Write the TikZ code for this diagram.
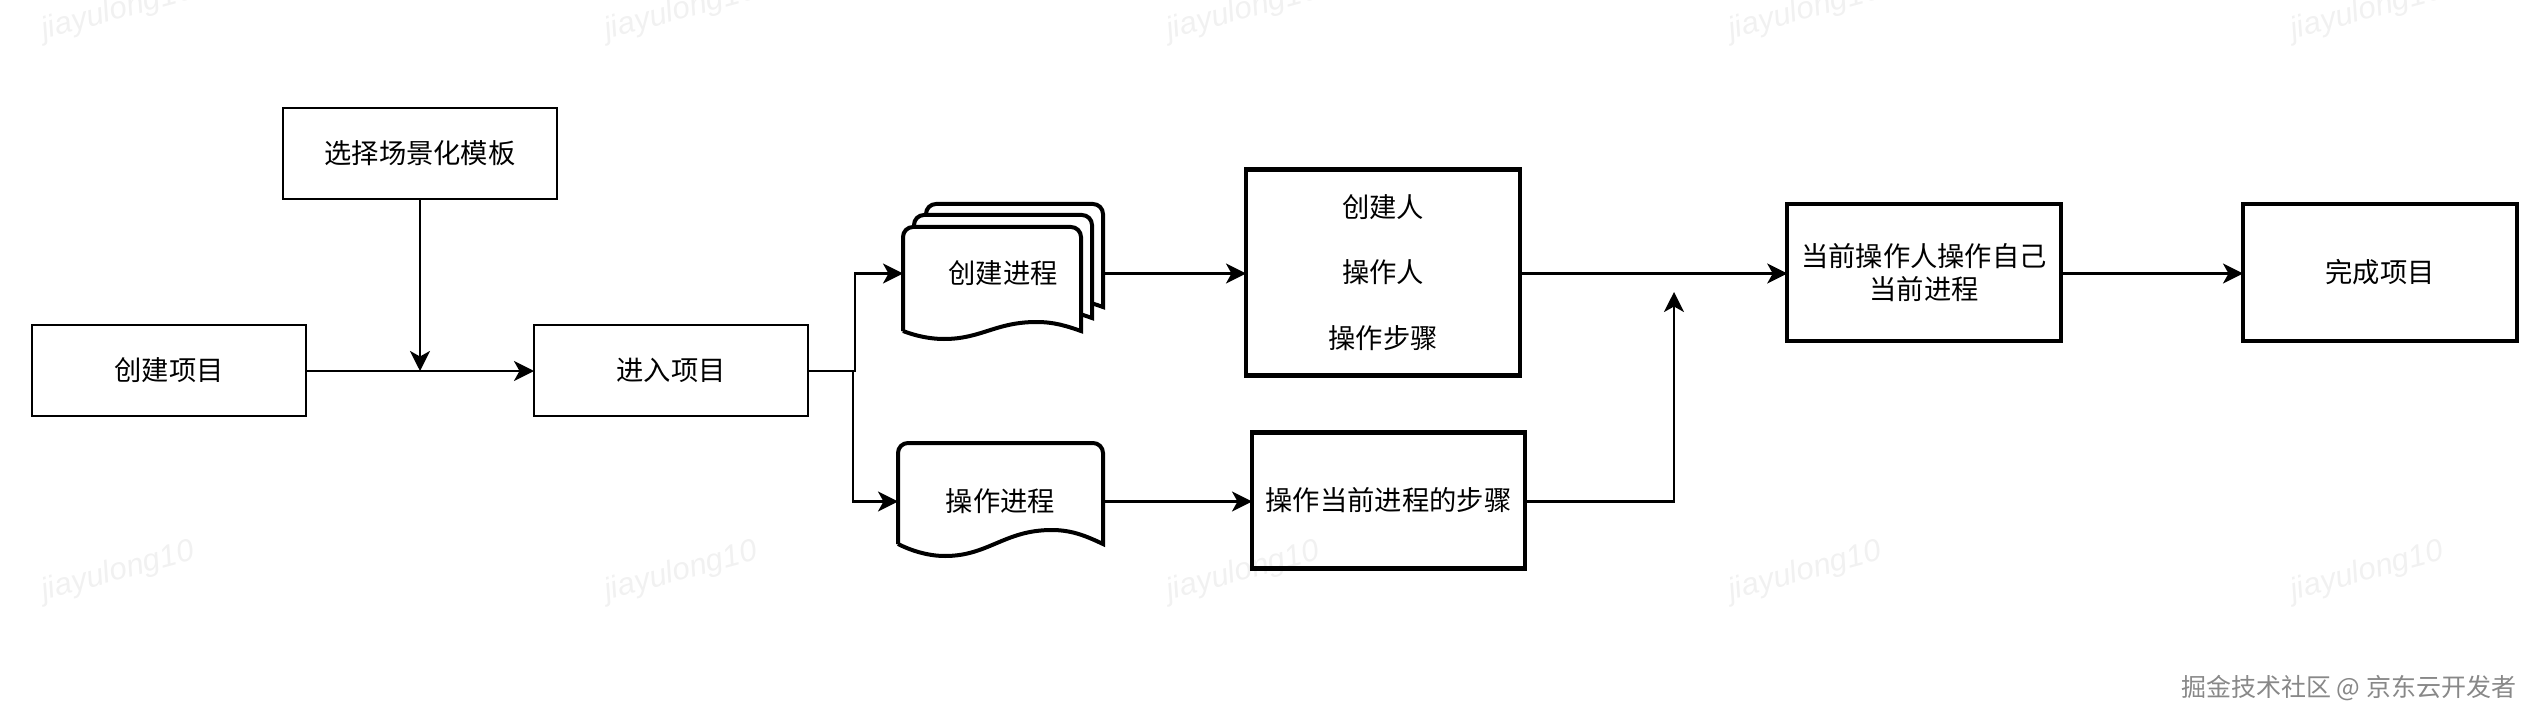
\documentclass[tikz,border=0pt]{standalone}
\usepackage{fontspec}
\setmainfont{Noto Sans CJK SC}
\newfontfamily\wmfont{Liberation Sans}
\usetikzlibrary{arrows.meta}
\definecolor{wmgray}{HTML}{F1F1F1}
\definecolor{footgray}{HTML}{888888}
\newcommand{\docpath}[6]{%
  % x0, x1, top, bottom, low amount, high amount
  \pgfmathsetmacro{\dw}{#2-#1}
  \pgfmathsetmacro{\dlx}{#1+.23*\dw}
  \pgfmathsetmacro{\dhx}{#1+.75*\dw}
  \filldraw[docline]
    (#1,#4) -- (#1,#3+10) arc[start angle=180,end angle=90,radius=10pt]
    -- (#2-10,#3) arc[start angle=90,end angle=0,radius=10pt]
    -- (#2,#4)
    .. controls (#1+.92*\dw,#4-.55*#6) and (#1+.85*\dw,#4-#6) .. (\dhx,#4-#6)
    .. controls (#1+.52*\dw,#4-#6) and (#1+.44*\dw,#4+#5) .. (\dlx,#4+#5)
    .. controls (#1+.15*\dw,#4+#5) and (#1+.07*\dw,#4+.6*#5) .. (#1,#4);
}
\tikzset{
  thinbox/.style={draw=black,line width=2.6pt,fill=none,inner sep=0pt,outer sep=0pt,
    minimum width=274pt,minimum height=91pt,align=center},
  thickbox/.style={thinbox,line width=4.2pt},
  docline/.style={draw=black,fill=white,line width=4pt},
  docarea/.style={inner sep=0pt,outer sep=0pt,align=center},
  conn/.style={draw=black,line width=2.6pt,-{Stealth[length=20pt,width=20pt,inset=5.5pt]}},
  wmark/.style={text=wmgray,rotate=15,font=\wmfont\itshape\fontsize{31pt}{31pt}\selectfont},
  every node/.append style={font=\fontsize{27.3pt}{32.8pt}\selectfont},
}
\begin{document}
\begin{tikzpicture}[x=1pt,y=-1pt]
\useasboundingbox (0,0) rectangle (2536,722);
\begin{scope}
\clip (0,0) rectangle (2536,722);
\foreach \wx in {118,681,1243,1805,2367}{
  \node[wmark] at (\wx,11) {jiayulong10};
  \node[wmark] at (\wx,572) {jiayulong10};
}
\end{scope}

\node[thinbox] (tmpl) at (420,153.5) {选择场景化模板};
\node[thinbox] (create) at (169,370.5) {创建项目};
\node[thinbox] (enter) at (671,370.5) {进入项目};

\docpath{926}{1103}{204}{307}{8}{9}
\docpath{914}{1092}{215}{318}{8}{9}
\docpath{903}{1081}{227}{331}{8}{9}
\node[docarea,minimum width=200pt,minimum height=140pt] (procA) at (1003,273.5) {创建进程};
\docpath{898}{1103}{443}{544}{12}{14}
\node[docarea,minimum width=205pt,minimum height=118pt] (procB) at (1000.5,501.5) {操作进程};

\node[thickbox,minimum width=274pt,minimum height=206pt] (info) at (1383,272.5) {创建人\\[32.8pt]操作人\\[32.8pt]操作步骤};
\node[thickbox,minimum width=273pt,minimum height=136pt] (steps) at (1388.5,500.5) {操作当前进程的步骤};
\node[thickbox,minimum width=273.5pt,minimum height=137pt] (current) at (1924,272.5) {当前操作人操作自己\\当前进程};
\node[thickbox,minimum width=274pt,minimum height=137pt] (finish) at (2380,272.5) {完成项目};

\node[anchor=west,inner sep=0pt,text=footgray,font=\fontsize{25pt}{28pt}\selectfont] (foot) at (2181,688) {掘金技术社区 @ 京东云开发者};

\coordinate (joinA) at (420,371);
\coordinate (splitA) at (855,371);
\coordinate (splitB) at (853,371);
\coordinate (mergeTip) at (1674,292);

\draw[conn] (create.east |- joinA) -- (enter.west |- joinA);
\draw[conn] (tmpl.south) -- (joinA);
\draw[conn] (enter.east |- joinA) -- (splitA) |- (procA.west);
\draw[conn] (enter.east |- joinA) -- (splitB) |- (procB.west);
\draw[conn] (procA.east) -- (info.west |- procA.east);
\draw[conn] (procB.east) -- (steps.west |- procB.east);
\draw[conn] (info.east |- procA.east) -- (current.west |- procA.east);
\draw[conn] (steps.east |- procB.east) -| (mergeTip);
\draw[conn] (current.east |- procA.east) -- (finish.west |- procA.east);
\end{tikzpicture}
\end{document}
